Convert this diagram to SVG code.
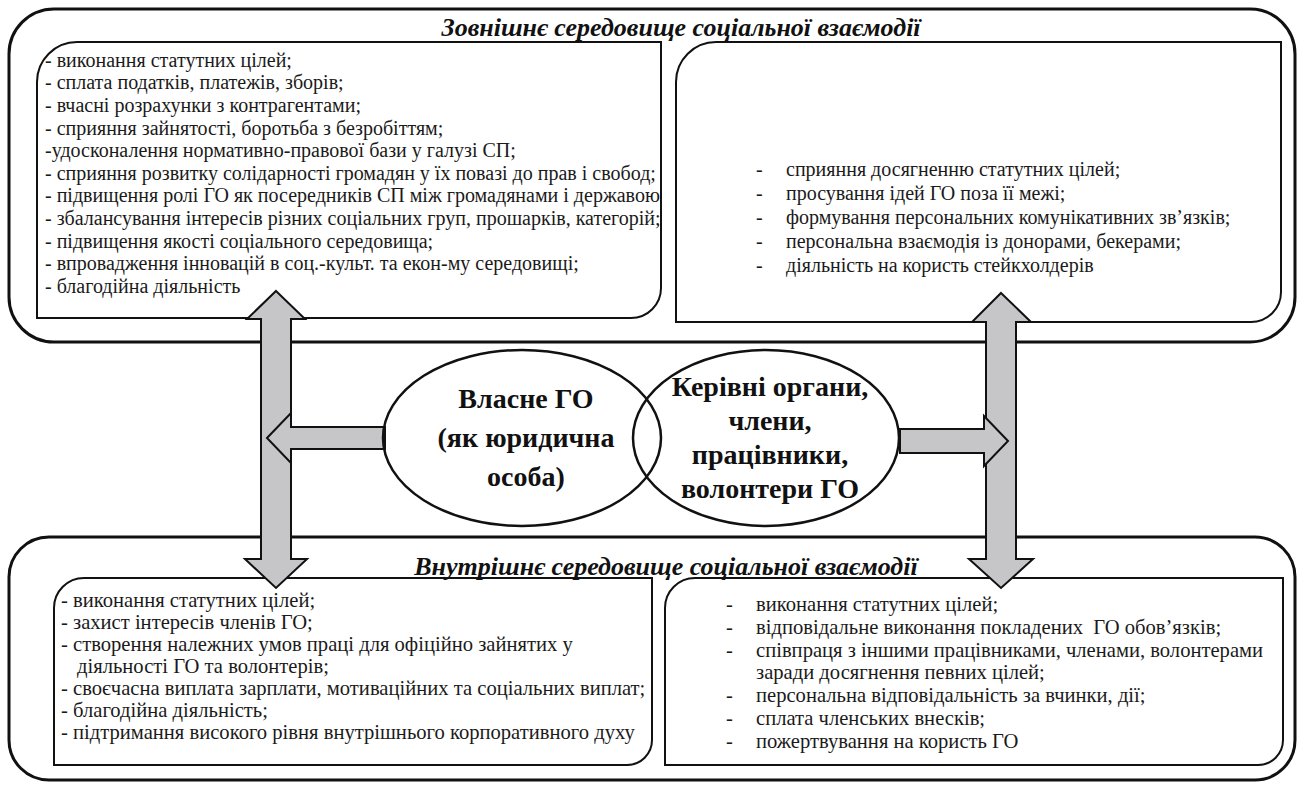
<svg xmlns="http://www.w3.org/2000/svg" width="1303" height="787" viewBox="0 0 1303 787">
<style>
.frame{fill:none;stroke:#111;stroke-width:3}
.box{fill:none;stroke:#111;stroke-width:2}
.ell{fill:none;stroke:#111;stroke-width:2.5}
.arr{fill:#c6c6c8;stroke:#111;stroke-width:2;stroke-linejoin:miter}
.t{font-family:"Liberation Serif","Times New Roman",serif;font-size:20px;fill:#1a1a1a}
.tb{font-family:"Liberation Serif","Times New Roman",serif;font-size:20.6px;fill:#1a1a1a}
.title{font-family:"Liberation Serif","Times New Roman",serif;font-size:26px;font-weight:bold;font-style:italic;fill:#111;text-anchor:middle}
.c{font-family:"Liberation Serif","Times New Roman",serif;font-size:28px;font-weight:bold;fill:#111;text-anchor:middle}
</style>
<defs>
<clipPath id="clipTL"><rect x="37" y="42" width="623" height="276"/></clipPath>
</defs>
<rect width="1303" height="787" fill="#fff"/>
<g id="external">
<rect class="frame" x="9" y="9" width="1286" height="333" rx="45"/>
<text class="title" x="681" y="36">Зовнішнє середовище соціальної взаємодії</text>
</g>
<g id="ext-org">
<path class="box" d="M37,82 A40,40 0 0 1 77,42 L661,42 L661,288 A30,30 0 0 1 631,318 L37,318 Z"/>
<g clip-path="url(#clipTL)">
<text class="t" x="45" y="67">- виконання статутних цілей;</text>
<text class="t" x="45" y="89">- сплата податків, платежів, зборів;</text>
<text class="t" x="45" y="112">- вчасні розрахунки з контрагентами;</text>
<text class="t" x="45" y="135">- сприяння зайнятості, боротьба з безробіттям;</text>
<text class="t" x="45" y="157">-удосконалення нормативно-правової бази у галузі СП;</text>
<text class="t" x="45" y="180">- сприяння розвитку солідарності громадян у їх повазі до прав і свобод;</text>
<text class="t" x="45" y="202">- підвищення ролі ГО як посередників СП між громадянами і державою;</text>
<text class="t" x="45" y="225">- збалансування інтересів різних соціальних груп, прошарків, категорій;</text>
<text class="t" x="45" y="248">- підвищення якості соціального середовища;</text>
<text class="t" x="45" y="270">- впровадження інновацій в соц.-культ. та екон-му середовищі;</text>
<text class="t" x="45" y="293">- благодійна діяльність</text>
</g>
</g>
<g id="ext-members">
<path class="box" d="M676,82 A40,40 0 0 1 716,42 L1281,42 L1281,292 A30,30 0 0 1 1251,322 L676,322 Z"/>
<text class="t" x="756" y="176">-</text><text class="t" x="786" y="176">сприяння досягненню статутних цілей;</text>
<text class="t" x="756" y="200">-</text><text class="t" x="786" y="200">просування ідей ГО поза її межі;</text>
<text class="t" x="756" y="224">-</text><text class="t" x="786" y="224">формування персональних комунікативних зв’язків;</text>
<text class="t" x="756" y="248">-</text><text class="t" x="786" y="248">персональна взаємодія із донорами, бекерами;</text>
<text class="t" x="756" y="272">-</text><text class="t" x="786" y="272">діяльність на користь стейкхолдерів</text>
</g>
<g id="internal">
<rect class="frame" x="9" y="537" width="1286" height="243" rx="40"/>
<text class="title" x="666" y="575">Внутрішнє середовище соціальної взаємодії</text>
</g>
<g id="int-org">
<path class="box" d="M54,608 A30,30 0 0 1 84,578 L652,578 L652,740 A25,25 0 0 1 627,765 L54,765 Z"/>
<text class="tb" x="61" y="607">- виконання статутних цілей;</text>
<text class="tb" x="61" y="629">- захист інтересів членів ГО;</text>
<text class="tb" x="61" y="651">- створення належних умов праці для офіційно зайнятих у</text>
<text class="tb" x="77" y="673">діяльності ГО та волонтерів;</text>
<text class="tb" x="61" y="695">- своєчасна виплата зарплати, мотиваційних та соціальних виплат;</text>
<text class="tb" x="61" y="717">- благодійна діяльність;</text>
<text class="tb" x="61" y="739">- підтримання високого рівня внутрішнього корпоративного духу</text>
</g>
<g id="int-members">
<path class="box" d="M665,608 A30,30 0 0 1 695,578 L1283,578 L1283,740 A25,25 0 0 1 1258,765 L665,765 Z"/>
<text class="tb" x="726" y="611">-</text><text class="tb" x="756" y="611">виконання статутних цілей;</text>
<text class="tb" x="726" y="634">-</text><text class="tb" x="756" y="634" xml:space="preserve">відповідальне виконання покладених  ГО обов’язків;</text>
<text class="tb" x="726" y="657">-</text><text class="tb" x="756" y="657">співпраця з іншими працівниками, членами, волонтерами</text>
<text class="tb" x="756" y="679">заради досягнення певних цілей;</text>
<text class="tb" x="726" y="702">-</text><text class="tb" x="756" y="702">персональна відповідальність за вчинки, дії;</text>
<text class="tb" x="726" y="725">-</text><text class="tb" x="756" y="725">сплата членських внесків;</text>
<text class="tb" x="726" y="748">-</text><text class="tb" x="756" y="748">пожертвування на користь ГО</text>
</g>
<g id="connectors">
<polygon class="arr" points="276,291 305,319 291,319 291,559 307,559 276,588 245,559 261,559 261,319 247,319"/>
<polygon class="arr" points="1001,293 1031,322 1016,322 1016,559 1033,559 1001,588 969,559 986,559 986,322 972,322"/>
<polygon class="arr" points="267,438 291,413 291,427 385,427 385,449 291,449 291,463"/>
<polygon class="arr" points="1008,441 984,416 984,429 900,429 900,453 984,453 984,466"/>
</g>
<g id="go-legal">
<ellipse class="ell" cx="522" cy="438" rx="139" ry="88"/>
<text class="c" x="526" y="408">Власне ГО</text>
<text class="c" x="526" y="447">(як юридична</text>
<text class="c" x="526" y="486">особа)</text>
</g>
<g id="go-people">
<ellipse class="ell" cx="766" cy="438" rx="133" ry="88"/>
<text class="c" x="770" y="396">Керівні органи,</text>
<text class="c" x="770" y="430">члени,</text>
<text class="c" x="770" y="464">працівники,</text>
<text class="c" x="770" y="498">волонтери ГО</text>
</g>
</svg>
